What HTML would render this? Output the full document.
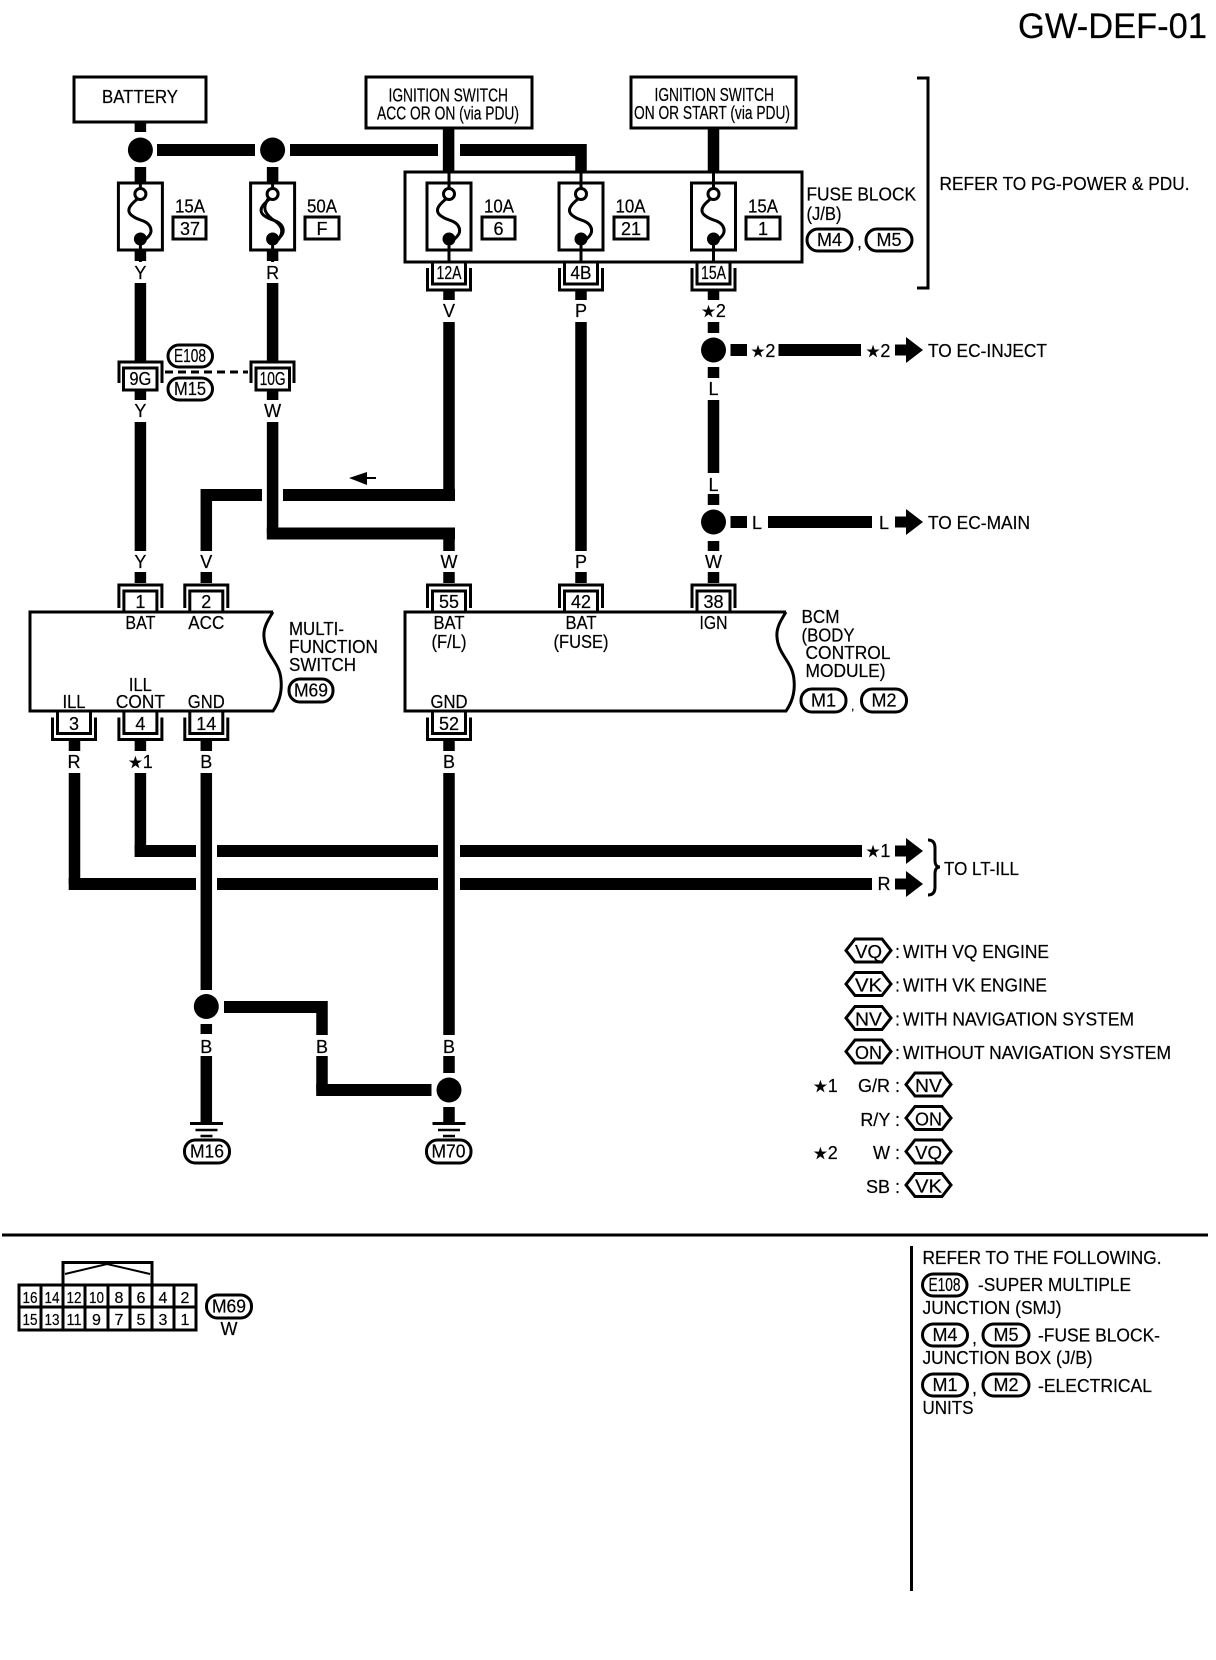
<!DOCTYPE html>
<html><head><meta charset="utf-8"><style>
html,body{margin:0;padding:0;background:#fff}
svg{display:block}
text{font-family:"Liberation Sans",sans-serif;font-size:18px;fill:#000;stroke:#000;stroke-width:.2}
.c{text-anchor:middle}
.w{stroke:#000;stroke-width:11.5;fill:none;stroke-linejoin:miter}
.h{stroke:#000;stroke-width:12;fill:none}
.l{stroke:#000;stroke-width:3;fill:none}
.b{stroke:#000;stroke-width:3;fill:#fff}
.s{font-size:16.5px;font-family:"DejaVu Sans",sans-serif}
</style></head><body>
<svg xmlns="http://www.w3.org/2000/svg" width="1216" height="1660" viewBox="0 0 1216 1660">
<defs>
<g id="fuse">
<rect class="b" x="-22" y="183" width="44" height="67"/>
<path class="l" d="M0,172V188M0,245V262"/>
<path class="l" d="M-3,199C-8,203-12,207-11.5,211C-11,216-3,219,3,221C10,224,11,229,10.5,232C10,235,7,238,3,241"/>
<circle cx="0" cy="194" r="5.5" fill="#fff" stroke="#000" stroke-width="3"/>
<circle cx="0" cy="239" r="6.5" fill="#000"/>
</g>
<g id="ct">
<path class="l" d="M-21.5,24V1H21.5V24"/>
<path class="l" d="M-16.5,29V7H16.5V29"/>
</g>
<g id="cb">
<path class="l" d="M-16.5,0V22H16.5V0"/>
<path class="l" d="M-21.5,6V28H21.5V6"/>
</g>
<g id="gnd">
<path class="l" d="M-16.5,0H16.5"/><path d="M-11,6.5H11M-6,12.5H6" stroke="#000" stroke-width="2.5" fill="none"/>
</g>
<polygon id="hex" class="b" points="-22.5,0 -13.5,-11.5 13.5,-11.5 22.5,0 13.5,11.5 -13.5,11.5"/>
<path id="arr" d="M0,-5.5H11V-13L28,0L11,13V5.5H0Z" fill="#000"/>
</defs>

<text x="1018" y="38" style="font-size:35px" textLength="189" lengthAdjust="spacingAndGlyphs">GW-DEF-01</text>

<!-- source boxes -->
<rect class="b" x="74" y="77" width="132" height="45"/>
<text x="140" y="103" class="c" textLength="76" lengthAdjust="spacingAndGlyphs">BATTERY</text>
<rect class="b" x="366" y="77" width="166" height="51"/>
<text x="388.5" y="101.5" textLength="119.5" lengthAdjust="spacingAndGlyphs">IGNITION SWITCH</text>
<text x="377" y="119.5" textLength="142" lengthAdjust="spacingAndGlyphs">ACC OR ON (via PDU)</text>
<rect class="b" x="631" y="77" width="165" height="51"/>
<text x="654.5" y="101" textLength="119.5" lengthAdjust="spacingAndGlyphs">IGNITION SWITCH</text>
<text x="634" y="119" textLength="156" lengthAdjust="spacingAndGlyphs">ON OR START (via PDU)</text>

<!-- bracket -->
<path class="l" d="M917,78H928V288H917"/>
<text x="939.5" y="190" textLength="250" lengthAdjust="spacingAndGlyphs">REFER TO PG-POWER &amp; PDU.</text>

<!-- top wires -->
<path class="w" d="M140.4,122V132M140.4,167V183M272.6,167V183M448.6,128V172M713.5,128V172"/>
<path class="h" d="M157,150H255M290,150H438"/>
<path class="h" d="M460,150H581"/><path class="w" d="M581,144V172"/>
<circle cx="140.4" cy="150" r="12.5"/><circle cx="272.6" cy="150" r="12.5"/>

<!-- fuse block -->
<rect class="b" x="405" y="172" width="397" height="90"/>
<use href="#fuse" x="140.4"/><use href="#fuse" x="272.6"/>
<path class="l" stroke-width="2" d="M268,199C262,208,265,213,272,219C282,225,285,231,278,240" />
<use href="#fuse" x="449"/><use href="#fuse" x="581"/><use href="#fuse" x="713.5"/>

<text x="190" y="212.5" class="c" textLength="30" lengthAdjust="spacingAndGlyphs">15A</text>
<rect class="b" x="173" y="217" width="33" height="22"/><text x="190" y="235" class="c">37</text>
<text x="322" y="212.5" class="c" textLength="30" lengthAdjust="spacingAndGlyphs">50A</text>
<rect class="b" x="305" y="217" width="34" height="22"/><text x="322" y="235" class="c">F</text>
<text x="499" y="212.5" class="c" textLength="30" lengthAdjust="spacingAndGlyphs">10A</text>
<rect class="b" x="482" y="217" width="33" height="22"/><text x="498.5" y="235" class="c">6</text>
<text x="630.5" y="212.5" class="c" textLength="30" lengthAdjust="spacingAndGlyphs">10A</text>
<rect class="b" x="614" y="217" width="34" height="22"/><text x="631" y="235" class="c">21</text>
<text x="763" y="212.5" class="c" textLength="30" lengthAdjust="spacingAndGlyphs">15A</text>
<rect class="b" x="746" y="217" width="34" height="22"/><text x="763" y="235" class="c">1</text>

<text x="806.5" y="200.5" textLength="109.5" lengthAdjust="spacingAndGlyphs">FUSE BLOCK</text>
<text x="806.5" y="220" textLength="35" lengthAdjust="spacingAndGlyphs">(J/B)</text>
<rect class="b" x="807" y="229" width="45" height="22" rx="11"/><text x="829.5" y="246" class="c" textLength="25" lengthAdjust="spacingAndGlyphs">M4</text>
<text x="857" y="248">,</text>
<rect class="b" x="866" y="229" width="46" height="22" rx="11"/><text x="889" y="246" class="c" textLength="25" lengthAdjust="spacingAndGlyphs">M5</text>

<!-- fuse block connectors -->
<use href="#cb" x="449" y="262"/><use href="#cb" x="581" y="262"/><use href="#cb" x="713.5" y="262"/>
<text x="449" y="279" class="c" textLength="25" lengthAdjust="spacingAndGlyphs">12A</text>
<text x="581" y="279" class="c" textLength="21" lengthAdjust="spacingAndGlyphs">4B</text>
<text x="713.5" y="279" class="c" textLength="25" lengthAdjust="spacingAndGlyphs">15A</text>

<!-- left wires -->
<path class="w" d="M140.4,250V261M272.6,250V261M140.4,283V361M272.6,283V361"/>
<text x="140.4" y="279" class="c">Y</text><text x="272.6" y="279" class="c">R</text>

<!-- 9G 10G -->
<path class="l" d="M119,383V362H162V383"/><rect class="b" x="123.5" y="368" width="33.5" height="22"/>
<path class="l" d="M251,383V362H294V383"/><rect class="b" x="256" y="368" width="33.5" height="22"/>
<text x="140.4" y="385" class="c" textLength="22" lengthAdjust="spacingAndGlyphs">9G</text>
<text x="272.6" y="385" class="c" textLength="26" lengthAdjust="spacingAndGlyphs">10G</text>
<path d="M165,372H248" stroke="#000" stroke-width="3" stroke-dasharray="8 5" fill="none"/>
<rect class="b" x="168" y="345" width="44.5" height="22" rx="11"/><text x="190" y="362" class="c" textLength="32" lengthAdjust="spacingAndGlyphs">E108</text>
<rect class="b" x="168" y="378" width="44.5" height="22" rx="11"/><text x="190" y="395" class="c" textLength="32" lengthAdjust="spacingAndGlyphs">M15</text>
<path class="w" d="M140.4,390V400M272.6,390V400"/>
<text x="140.4" y="417" class="c">Y</text><text x="272.6" y="417" class="c">W</text>

<!-- mid wires -->
<path class="w" d="M140.4,422V551"/>
<path class="w" d="M449,290V300M581,290V300M713.5,290V300"/>
<text x="449" y="317" class="c">V</text><text x="581" y="317" class="c">P</text>
<text x="713.5" y="317" class="c"><tspan class="s">★</tspan>2</text>
<path class="w" d="M449,322V495"/>
<path class="h" d="M455,495H283"/>
<path class="h" d="M262,495H206"/>
<path class="w" d="M206.3,489V551"/>
<path class="w" d="M272.6,422V533.5"/>
<path class="h" d="M266.8,533.5H455"/>
<path class="w" d="M449,528V551"/>
<path class="w" d="M581,322V551"/>
<path d="M349,478L367,472V477H376V479H367V485Z" fill="#000"/>

<!-- right column wires -->
<path class="w" d="M713.5,322V333M713.5,367V378M713.5,400V473M713.5,494V505M713.5,541V551"/>
<circle cx="713.5" cy="350" r="12.5"/><circle cx="713.5" cy="522" r="12.5"/>
<text x="713.5" y="395" class="c">L</text><text x="713.5" y="491" class="c">L</text>
<path class="h" d="M730.5,350H747M778.5,350H861M730.5,522H747M768,522H872"/>
<text x="763" y="357" class="c"><tspan class="s">★</tspan>2</text>
<text x="878" y="357" class="c"><tspan class="s">★</tspan>2</text>
<use href="#arr" x="895" y="350"/>
<text x="928" y="357" textLength="119" lengthAdjust="spacingAndGlyphs">TO EC-INJECT</text>
<text x="757" y="529" class="c">L</text><text x="884" y="529" class="c">L</text>
<use href="#arr" x="895" y="522"/>
<text x="928" y="529" textLength="102" lengthAdjust="spacingAndGlyphs">TO EC-MAIN</text>

<!-- wire labels above modules -->
<text x="140.4" y="568" class="c">Y</text><text x="206.3" y="568" class="c">V</text>
<text x="449" y="568" class="c">W</text><text x="581" y="568" class="c">P</text><text x="713.5" y="568" class="c">W</text>
<path class="w" d="M140.4,572V583M206.3,572V583M449,572V583M581,572V583M713.5,572V583"/>

<!-- connectors top -->
<use href="#ct" x="140.4" y="584"/><use href="#ct" x="206.3" y="584"/><use href="#ct" x="449" y="584"/><use href="#ct" x="581" y="584"/><use href="#ct" x="713.5" y="584"/>
<text x="140.4" y="608" class="c">1</text><text x="206.3" y="608" class="c">2</text>
<text x="449" y="608" class="c" textLength="20" lengthAdjust="spacingAndGlyphs">55</text>
<text x="581" y="608" class="c" textLength="20" lengthAdjust="spacingAndGlyphs">42</text>
<text x="713.5" y="608" class="c" textLength="20" lengthAdjust="spacingAndGlyphs">38</text>

<!-- modules -->
<path class="l" d="M273,612H30V711H273C280,701,282,690,281,680C280,662,265,655,264,637C263,628,268,620,273,612"/>
<path class="l" d="M786,612H405V711H786C793,701,795,690,794,680C793,662,778,655,777,637C776,628,781,620,786,612"/>
<text x="140.4" y="629" class="c" textLength="30" lengthAdjust="spacingAndGlyphs">BAT</text>
<text x="206.3" y="629" class="c" textLength="36" lengthAdjust="spacingAndGlyphs">ACC</text>
<text x="140.4" y="691" class="c" textLength="23" lengthAdjust="spacingAndGlyphs">ILL</text>
<text x="74" y="708" class="c" textLength="23" lengthAdjust="spacingAndGlyphs">ILL</text>
<text x="140.4" y="708" class="c" textLength="49" lengthAdjust="spacingAndGlyphs">CONT</text>
<text x="206.3" y="708" class="c" textLength="37" lengthAdjust="spacingAndGlyphs">GND</text>
<text x="289" y="635" textLength="55" lengthAdjust="spacingAndGlyphs">MULTI-</text>
<text x="289" y="653" textLength="89" lengthAdjust="spacingAndGlyphs">FUNCTION</text>
<text x="289" y="671" textLength="67" lengthAdjust="spacingAndGlyphs">SWITCH</text>
<rect class="b" x="289" y="679" width="44" height="23" rx="11"/><text x="311" y="696.5" class="c" textLength="34" lengthAdjust="spacingAndGlyphs">M69</text>

<text x="449" y="629" class="c" textLength="31" lengthAdjust="spacingAndGlyphs">BAT</text>
<text x="449" y="648" class="c" textLength="35" lengthAdjust="spacingAndGlyphs">(F/L)</text>
<text x="581" y="629" class="c" textLength="31" lengthAdjust="spacingAndGlyphs">BAT</text>
<text x="581" y="648" class="c" textLength="55" lengthAdjust="spacingAndGlyphs">(FUSE)</text>
<text x="713.5" y="629" class="c" textLength="28" lengthAdjust="spacingAndGlyphs">IGN</text>
<text x="449" y="708" class="c" textLength="37" lengthAdjust="spacingAndGlyphs">GND</text>
<text x="801.5" y="623" textLength="38" lengthAdjust="spacingAndGlyphs">BCM</text>
<text x="801.5" y="641.5" textLength="53" lengthAdjust="spacingAndGlyphs">(BODY</text>
<text x="805.5" y="659" textLength="85" lengthAdjust="spacingAndGlyphs">CONTROL</text>
<text x="805.5" y="677" textLength="80" lengthAdjust="spacingAndGlyphs">MODULE)</text>
<rect class="b" x="801" y="689" width="45" height="23" rx="11"/><text x="823.5" y="706.5" class="c" textLength="25" lengthAdjust="spacingAndGlyphs">M1</text>
<text x="851" y="710" style="font-size:12px">,</text>
<rect class="b" x="861.5" y="689" width="45" height="23" rx="11"/><text x="884" y="706.5" class="c" textLength="25" lengthAdjust="spacingAndGlyphs">M2</text>

<!-- connectors bottom -->
<use href="#cb" x="74" y="711.5"/><use href="#cb" x="140.4" y="711.5"/><use href="#cb" x="206.3" y="711.5"/><use href="#cb" x="449" y="711.5"/>
<text x="74" y="730" class="c">3</text><text x="140.4" y="730" class="c">4</text>
<text x="206.3" y="730" class="c" textLength="20" lengthAdjust="spacingAndGlyphs">14</text>
<text x="449" y="730" class="c" textLength="20" lengthAdjust="spacingAndGlyphs">52</text>
<path class="w" d="M74.5,741V751M140.4,741V751M206.3,741V751M449,741V751"/>
<text x="74" y="768" class="c">R</text>
<text x="140.4" y="768" class="c"><tspan class="s">★</tspan>1</text>
<text x="206.3" y="768" class="c">B</text><text x="449" y="768" class="c">B</text>

<!-- bus -->
<path class="w" d="M140.4,773V851"/><path class="w" d="M74.5,773V884"/>
<path class="h" d="M134.6,851H196M217,851H438M460,851H862"/>
<path class="h" d="M68.7,884H196M217,884H438M460,884H872"/>
<text x="878" y="857" class="c"><tspan class="s">★</tspan>1</text>
<text x="884" y="890" class="c">R</text>
<use href="#arr" x="895" y="851"/><use href="#arr" x="895" y="884"/>
<path class="l" stroke-width="2.5" d="M928,840C933,840,935,843,935,848V860C935,864,936,867,940,867C936,867,935,870,935,874V887C935,892,933,895,928,895"/>
<text x="944" y="875" textLength="75" lengthAdjust="spacingAndGlyphs">TO LT-ILL</text>

<!-- ground -->
<path class="w" d="M206.3,773V990M449,773V1035M449,1056V1073M206.3,1024V1034M206.3,1056V1123M449,1107V1123"/>
<circle cx="206.3" cy="1006.5" r="12.5"/><circle cx="449" cy="1090" r="12.5"/>
<path class="h" d="M224,1007H322"/><path class="w" d="M322,1001V1035M322,1056V1090"/><path class="h" d="M316.2,1090H431.5"/>
<text x="206.3" y="1053" class="c">B</text><text x="322" y="1053" class="c">B</text><text x="449" y="1053" class="c">B</text>
<use href="#gnd" x="206.5" y="1123.5"/><use href="#gnd" x="449" y="1123.5"/>
<rect class="b" x="184.5" y="1140" width="45" height="23" rx="11"/><text x="207" y="1157.5" class="c" textLength="34" lengthAdjust="spacingAndGlyphs">M16</text>
<rect class="b" x="426.5" y="1140" width="44.5" height="23" rx="11"/><text x="448.5" y="1157.5" class="c" textLength="34" lengthAdjust="spacingAndGlyphs">M70</text>

<!-- legend -->
<use href="#hex" x="868.5" y="950.5"/><text x="868.5" y="958" class="c" textLength="27" lengthAdjust="spacingAndGlyphs">VQ</text>
<use href="#hex" x="868.5" y="984"/><text x="868.5" y="991.5" class="c" textLength="27" lengthAdjust="spacingAndGlyphs">VK</text>
<use href="#hex" x="868.5" y="1018"/><text x="868.5" y="1025.5" class="c" textLength="27" lengthAdjust="spacingAndGlyphs">NV</text>
<use href="#hex" x="868.5" y="1051.5"/><text x="868.5" y="1059" class="c" textLength="27" lengthAdjust="spacingAndGlyphs">ON</text>
<text x="895" y="958">:</text><text x="903" y="958" textLength="146" lengthAdjust="spacingAndGlyphs">WITH VQ ENGINE</text>
<text x="895" y="991.5">:</text><text x="903" y="991.5" textLength="144" lengthAdjust="spacingAndGlyphs">WITH VK ENGINE</text>
<text x="895" y="1025.5">:</text><text x="903" y="1025.5" textLength="231" lengthAdjust="spacingAndGlyphs">WITH NAVIGATION SYSTEM</text>
<text x="895" y="1059">:</text><text x="903" y="1059" textLength="268" lengthAdjust="spacingAndGlyphs">WITHOUT NAVIGATION SYSTEM</text>
<text x="813" y="1092"><tspan class="s">★</tspan>1</text>
<text x="813" y="1159"><tspan class="s">★</tspan>2</text>
<text x="900" y="1092" text-anchor="end">G/R :</text>
<text x="900" y="1126" text-anchor="end">R/Y :</text>
<text x="900" y="1159" text-anchor="end">W :</text>
<text x="900" y="1193" text-anchor="end">SB :</text>
<use href="#hex" x="928.5" y="1084.5"/><text x="928.5" y="1092" class="c" textLength="27" lengthAdjust="spacingAndGlyphs">NV</text>
<use href="#hex" x="928.5" y="1118"/><text x="928.5" y="1125.5" class="c" textLength="27" lengthAdjust="spacingAndGlyphs">ON</text>
<use href="#hex" x="928.5" y="1151.5"/><text x="928.5" y="1159" class="c" textLength="27" lengthAdjust="spacingAndGlyphs">VQ</text>
<use href="#hex" x="928.5" y="1185"/><text x="928.5" y="1192.5" class="c" textLength="27" lengthAdjust="spacingAndGlyphs">VK</text>

<!-- divider -->
<path class="l" stroke-width="2.5" d="M2,1235H1208"/>
<path class="l" stroke-width="3.5" d="M911.5,1246V1591"/>

<!-- connector diagram -->
<path class="l" d="M63,1284V1262.5H152V1284"/>
<path d="M65,1274L107,1264L150,1274" stroke="#000" stroke-width="2" fill="none"/>
<rect class="b" x="19" y="1285" width="177" height="45"/>
<path class="l" d="M19,1307H196M41,1285V1330M63,1285V1330M85,1285V1330M108,1285V1330M130,1285V1330M152,1285V1330M174,1285V1330"/>
<g text-anchor="middle">
<text style="font-size:16px" x="30" y="1303" textLength="15" lengthAdjust="spacingAndGlyphs">16</text>
<text style="font-size:16px" x="52" y="1303" textLength="15" lengthAdjust="spacingAndGlyphs">14</text>
<text style="font-size:16px" x="74" y="1303" textLength="15" lengthAdjust="spacingAndGlyphs">12</text>
<text style="font-size:16px" x="96.5" y="1303" textLength="15" lengthAdjust="spacingAndGlyphs">10</text>
<text style="font-size:16px" x="119" y="1303">8</text>
<text style="font-size:16px" x="141" y="1303">6</text>
<text style="font-size:16px" x="163" y="1303">4</text>
<text style="font-size:16px" x="185" y="1303">2</text>
<text style="font-size:16px" x="30" y="1325" textLength="15" lengthAdjust="spacingAndGlyphs">15</text>
<text style="font-size:16px" x="52" y="1325" textLength="15" lengthAdjust="spacingAndGlyphs">13</text>
<text style="font-size:16px" x="74" y="1325" textLength="15" lengthAdjust="spacingAndGlyphs">11</text>
<text style="font-size:16px" x="96.5" y="1325">9</text>
<text style="font-size:16px" x="119" y="1325">7</text>
<text style="font-size:16px" x="141" y="1325">5</text>
<text style="font-size:16px" x="163" y="1325">3</text>
<text style="font-size:16px" x="185" y="1325">1</text>
</g>
<rect class="b" x="206.5" y="1295" width="45" height="23" rx="11"/><text x="229" y="1312.5" class="c" textLength="34" lengthAdjust="spacingAndGlyphs">M69</text>
<text x="229" y="1335" class="c">W</text>

<!-- notes -->
<text x="922.5" y="1264" textLength="239" lengthAdjust="spacingAndGlyphs">REFER TO THE FOLLOWING.</text>
<rect class="b" x="922.5" y="1274" width="44.5" height="22" rx="11"/><text x="944.5" y="1291" class="c" textLength="32" lengthAdjust="spacingAndGlyphs">E108</text>
<text x="978" y="1291" textLength="153" lengthAdjust="spacingAndGlyphs">-SUPER MULTIPLE</text>
<text x="922.5" y="1314" textLength="139" lengthAdjust="spacingAndGlyphs">JUNCTION (SMJ)</text>
<rect class="b" x="922.5" y="1324" width="45" height="22" rx="11"/><text x="945" y="1341" class="c" textLength="25" lengthAdjust="spacingAndGlyphs">M4</text>
<text x="972" y="1344">,</text>
<rect class="b" x="983" y="1324" width="46" height="22" rx="11"/><text x="1006" y="1341" class="c" textLength="25" lengthAdjust="spacingAndGlyphs">M5</text>
<text x="1038" y="1341.5" textLength="122" lengthAdjust="spacingAndGlyphs">-FUSE BLOCK-</text>
<text x="922.5" y="1364" textLength="170" lengthAdjust="spacingAndGlyphs">JUNCTION BOX (J/B)</text>
<rect class="b" x="922.5" y="1374" width="45" height="22" rx="11"/><text x="945" y="1391" class="c" textLength="25" lengthAdjust="spacingAndGlyphs">M1</text>
<text x="972" y="1394">,</text>
<rect class="b" x="983" y="1374" width="46" height="22" rx="11"/><text x="1006" y="1391" class="c" textLength="25" lengthAdjust="spacingAndGlyphs">M2</text>
<text x="1038" y="1392" textLength="114" lengthAdjust="spacingAndGlyphs">-ELECTRICAL</text>
<text x="922.5" y="1414" textLength="51" lengthAdjust="spacingAndGlyphs">UNITS</text>
</svg>
</body></html>
